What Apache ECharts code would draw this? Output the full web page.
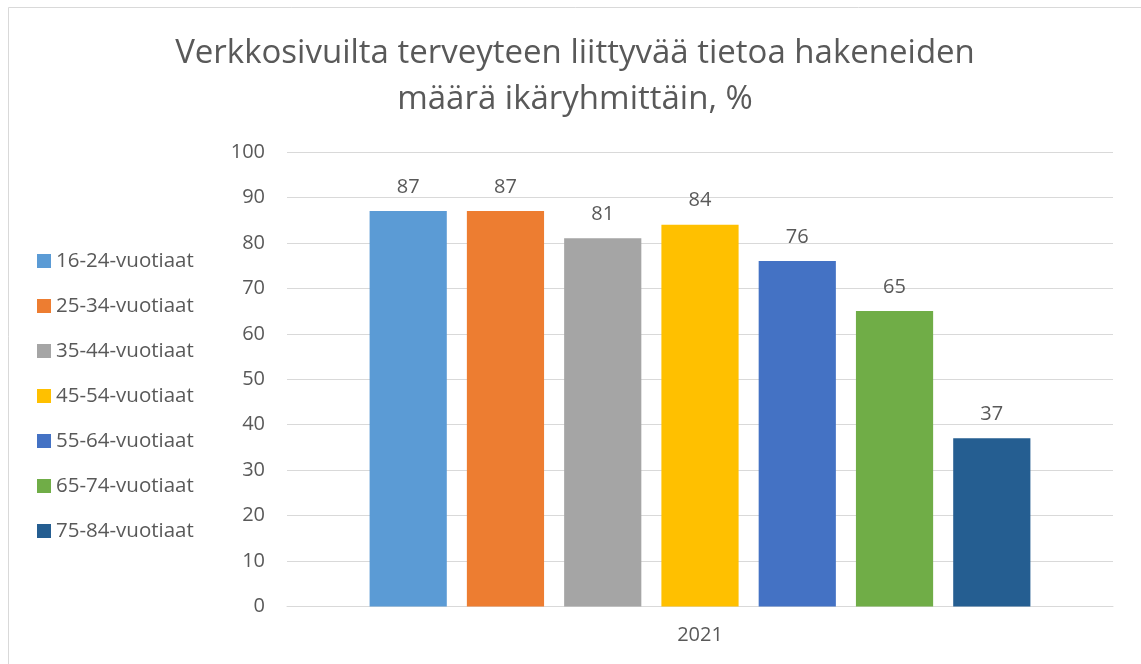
<!DOCTYPE html>
<html>
<head>
<meta charset="utf-8">
<script src="https://cdn.jsdelivr.net/npm/echarts@6/dist/echarts.min.js"></script>
<style>
html,body{margin:0;padding:0;background:#fff;}
#chart{width:1141px;height:664px;}
</style>
</head>
<body>
<div id="chart"></div>
<script>
const titleText = 'Verkkosivuilta terveyteen liittyvää tietoa hakeneiden\nmäärä ikäryhmittäin, %';
const categories = ['2021'];
const seriesNames = ['16-24-vuotiaat','25-34-vuotiaat','35-44-vuotiaat','45-54-vuotiaat','55-64-vuotiaat','65-74-vuotiaat','75-84-vuotiaat'];
const seriesValues = [87, 87, 81, 84, 76, 65, 37];
const seriesColors = ['#5B9BD5','#ED7D31','#A5A5A5','#FFC000','#4472C4','#70AD47','#255E91'];
const yTicks = {min: 0, max: 100, interval: 10};

const FONT = '"Open Sans", "Liberation Sans", sans-serif';
const TXT = '#595959';

const chart = echarts.init(document.getElementById('chart'), null, {renderer: 'canvas'});
chart.setOption({
  backgroundColor: '#ffffff',
  animation: false,
  title: {
    text: titleText,
    left: 575,
    top: 31,
    padding: 0,
    textAlign: 'center',
    textStyle: {fontFamily: FONT, fontSize: 33, fontWeight: 'normal', color: TXT, lineHeight: 46}
  },
  graphic: [{
    type: 'rect', silent: true,
    shape: {x: 8.5, y: 7.5, width: 1300, height: 800},
    style: {fill: 'none', stroke: '#D9D9D9', lineWidth: 1}
  }],
  legend: {
    orient: 'vertical',
    left: 37,
    top: 250,
    padding: 0,
    icon: 'rect',
    itemWidth: 14,
    itemHeight: 14,
    itemGap: 23,
    data: seriesNames,
    textStyle: {fontFamily: FONT, fontSize: 20.5, color: TXT, lineHeight: 22}
  },
  grid: {left: 287, right: 1141 - 1113, top: 152, bottom: 664 - 606.5, containLabel: false},
  xAxis: {
    type: 'category',
    data: categories,
    axisLine: {lineStyle: {color: '#D9D9D9', width: 1}},
    axisTick: {show: false},
    axisLabel: {fontFamily: FONT, fontSize: 20, color: TXT, margin: 19}
  },
  yAxis: {
    type: 'value',
    min: yTicks.min, max: yTicks.max, interval: yTicks.interval,
    axisLine: {show: false},
    axisTick: {show: false},
    splitLine: {lineStyle: {color: '#D9D9D9', width: 1}},
    axisLabel: {fontFamily: FONT, fontSize: 20, color: TXT, margin: 22}
  },
  series: seriesNames.map((name, i) => ({
    name: name,
    type: 'bar',
    data: [seriesValues[i]],
    barGap: '26%',
    barCategoryGap: '20%',
    itemStyle: {color: seriesColors[i]},
    label: {show: true, position: 'top', distance: 14, fontFamily: FONT, fontSize: 20, color: TXT}
  }))
});
</script>
</body>
</html>
